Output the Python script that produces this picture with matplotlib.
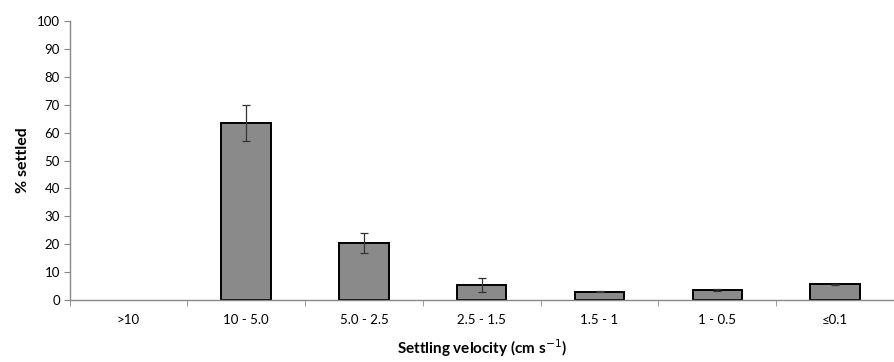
import matplotlib
matplotlib.use("Agg")
import matplotlib.pyplot as plt
import numpy as np

# data
categories = ['>10', '10 - 5.0', '5.0 - 2.5', '2.5 - 1.5', '1.5 - 1', '1 - 0.5', '\u22640.1']
settled = [0.0, 63.4, 20.4, 5.4, 3.0, 3.5, 5.7]
err = [0.0, 6.5, 3.6, 2.5, 0.3, 0.3, 0.2]

plt.rcParams['font.family'] = ['Lato', 'DejaVu Sans']

fig = plt.figure(figsize=(8.94, 3.62), dpi=100)
ax = fig.add_axes([69.5/894, 1 - 300/362, 1 - 69.5/894, (300 - 21)/362])

x = np.arange(len(categories))
edges = ['black' if v > 0 else 'none' for v in settled]
ax.bar(x, settled, width=0.42, color='#8a8a8a', edgecolor=edges, linewidth=1.4, zorder=2)
ax.errorbar(x[1:], settled[1:], yerr=err[1:], fmt='none', ecolor='#333333',
            elinewidth=0.9, capsize=3, capthick=0.9, zorder=3)

ax.set_ylim(0, 100)
ax.set_xlim(-0.5, 6.44)
ax.set_yticks(np.arange(0, 101, 10))
ax.set_xticks(x)
ax.set_xticklabels(categories)
ax.set_xticks(np.arange(-0.5, 6.6, 1), minor=True)
ax.tick_params(axis='x', which='major', length=0, pad=10, labelsize=9.5)
ax.tick_params(axis='x', which='minor', length=4, color='#888888', direction='out')
ax.tick_params(axis='y', length=4, color='#888888', labelsize=9.5, pad=3)

for side in ['top', 'right']:
    ax.spines[side].set_visible(False)
for side in ['left', 'bottom']:
    ax.spines[side].set_color('#888888')
    ax.spines[side].set_linewidth(1.0)

ax.set_ylabel('% settled', fontsize=11.5, fontweight='bold', labelpad=5)
ax.set_xlabel('Settling velocity (cm s$^{-1}$)', fontsize=11, fontweight='bold', labelpad=8)

fig.savefig('out.png', dpi=100)
